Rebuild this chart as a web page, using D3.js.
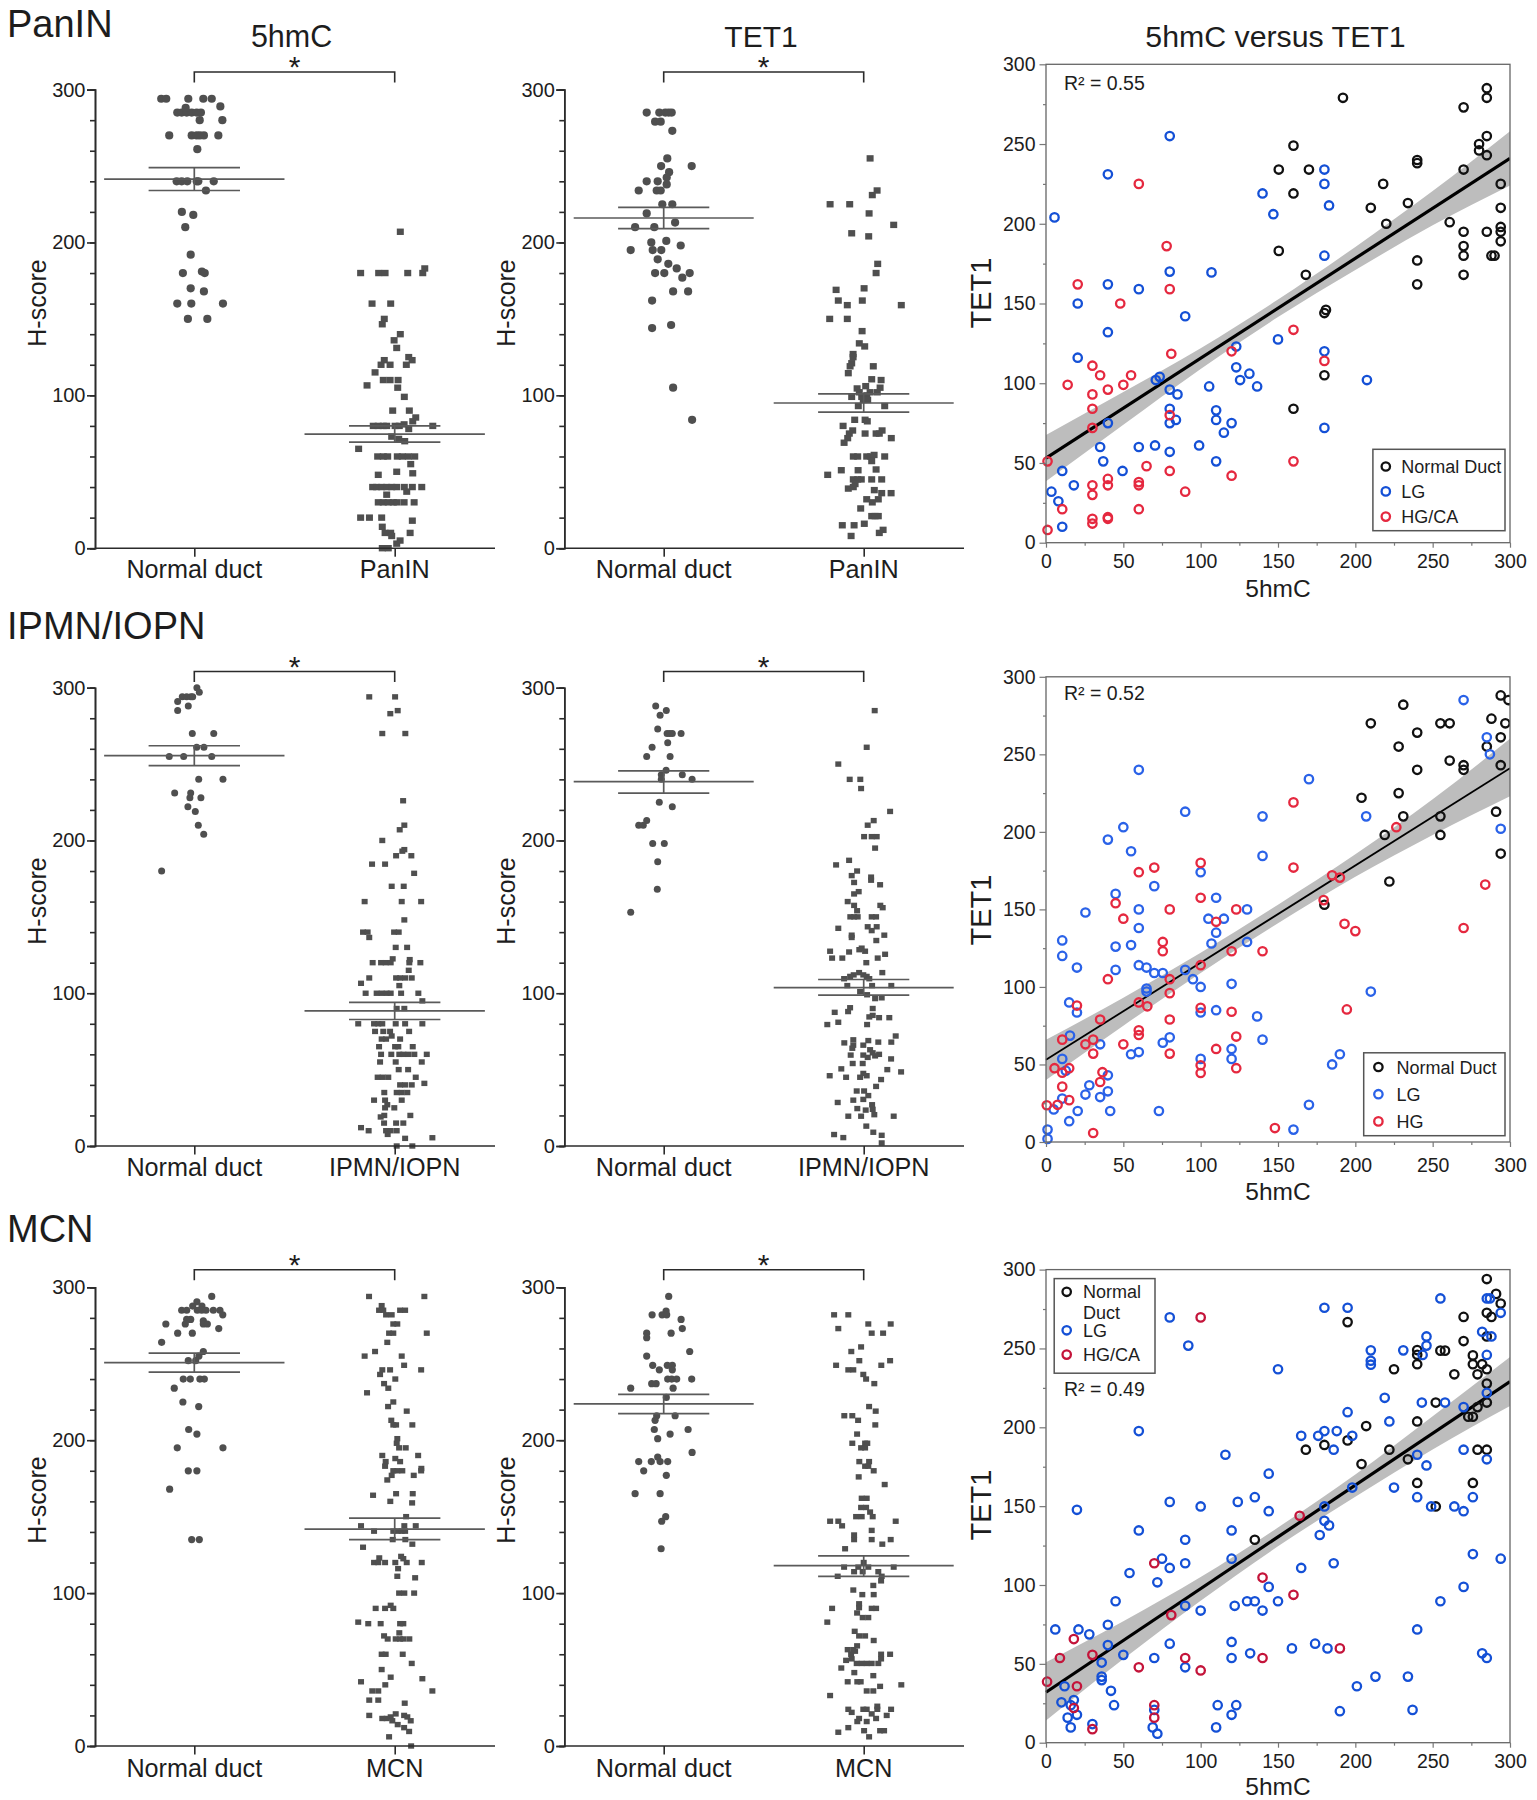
<!DOCTYPE html>
<html><head><meta charset="utf-8">
<script src="https://cdn.jsdelivr.net/npm/d3@7"></script>
<style>html,body{margin:0;background:#fff}svg{display:block;font-family:"Liberation Sans",Arial,sans-serif}</style>
</head><body><svg id="c" width="1537" height="1800"></svg>
<script>
// ---------- Tick labels / text ----------
const rowTitles=["PanIN","IPMN/IOPN","MCN"];
const columnTitles=["5hmC","TET1","5hmC versus TET1"];
const lesionLabels=["PanIN","IPMN/IOPN","MCN"];
const legendSets=[["Normal Duct","LG","HG/CA"],["Normal Duct","LG","HG"],["Normal Duct","LG","HG/CA"]];
const r2Labels=["R² = 0.55","R² = 0.52","R² = 0.49"];
const hTicks=[0,100,200,300];
const sTicks=[0,50,100,150,200,250,300];

// ---------- Dot plots: [jitter as % of the category gap, H-score] ----------
const pan5Normal=[[-16.5,294],[-14,294],[-3,294],[4.5,294],[8.7,294],[13,289],[-8.5,285],[-6.3,285],[-3.8,285],[-1.3,285],[1.2,285],[3.3,285],[-4.3,288],[2.7,280],[14,280],[-12.5,270],[-1.3,270],[1.2,270],[2.8,270],[4.8,270],[12,270],[1.5,261],[-8.8,240],[-6.3,240],[-3.5,240],[1.2,240],[2,240],[9.7,240],[5.8,234],[-6.2,220],[-0.5,218],[-4.5,210],[-1.8,192],[-5.7,180],[3.8,181],[5.2,180],[-1.8,170],[4.8,168],[-8.5,160],[-1.5,160],[14.3,160],[-3.2,150],[6.5,150]];
const pan5Lesion=[[2.8,207],[-17,180],[-8,180],[-4.8,180],[6.5,180],[14,180],[15,183],[-11.3,160],[-2,160],[-5.2,150],[-6.2,146.5],[2.8,140],[-0.3,136],[1,131],[7,125],[8.7,123],[-5.2,123],[-6.8,120],[-2.3,120],[5.8,120],[-9.8,115],[-5.7,110],[-2.3,110],[1.7,110],[-13.8,106.5],[1.5,105],[4.8,99],[-1,90],[7.3,90],[10.5,85.5],[9,83],[-10.7,80],[-8.2,80],[-5.7,80],[-4,80],[0.2,80],[2.3,80],[4.7,81],[19,80],[7,78],[-1.5,73],[2,71.5],[5,70],[-18,65],[-8.5,60],[-5.7,60],[-3.5,60],[1.3,60],[3.8,60],[6.8,60],[10,60],[8,55],[-8.2,48],[1,50],[9,49],[-11,40],[-9,40],[-6.5,40],[-4,40],[-1.5,40],[1,40],[4.8,40],[8.8,40],[13.5,40],[6,37],[-4,35],[-8.2,30],[-5.7,30],[-3.2,30],[-0.7,30],[1.2,30],[4.7,30],[9.7,30],[-17,20],[-12.6,20],[-6.5,20],[8.8,18],[-6.2,14],[-4.8,10],[-2,10],[7.7,10],[-1.5,8],[2.7,5],[1,3],[-6.2,0],[-3.2,0]];
const panTNormal=[[-8.5,285],[-2.2,285],[0.8,285],[2.5,285],[4,285],[-4.3,279],[-1.5,279],[4.3,273],[1.8,255],[-1.3,250],[14,250],[2.7,246],[1.5,242.5],[-8.5,240],[-3,240],[1.5,238],[-12.5,234],[-3.5,234],[-1.5,234],[-0.7,225],[4.3,225],[-8.5,219],[5.7,213],[-14.3,210],[-4.7,210],[-6.2,200],[1.3,201],[8.5,198],[-16.5,195],[-5.5,195],[-1.2,195],[-3,189],[2.3,186],[6.5,183],[-4.3,180],[0.3,180],[13,180],[9.3,177],[4.7,168],[12.2,168],[-5.8,162],[3.7,146],[-5.8,144],[4.7,105],[14.2,84]];
const panTLesion=[[3.2,255],[6.7,234],[4.3,231],[-16.8,225],[-7,225],[2.7,219],[15,211.5],[-6,206],[2.5,204],[7,186],[6.2,180],[-13.8,169],[0.2,170],[-12.7,162],[-0.7,162],[-8.2,159],[18.8,159],[-17,150],[-8.2,150],[-0.8,142],[-2.2,134],[0.5,132],[-5.3,127],[-5.3,125],[-6,121],[-6.8,119],[4.8,119],[-7.7,114.5],[4,110.5],[8.7,110],[-3.3,104.5],[1,106],[8.2,105],[-2.2,102],[3.2,102],[6.8,102],[-6,99],[-1,99],[1.5,100],[-0.2,97],[2,97],[-2.7,93],[10.5,93],[-4.5,84],[0.7,84],[1.8,83],[-10.3,80],[-5.5,77],[9.2,77],[0.7,75],[6.2,75],[7.8,75],[-7.2,75],[-8,72],[13.8,72],[-9.8,69],[-5.2,60],[-3,60],[1.5,60],[3.5,60],[10.5,60],[5.2,61],[4,57],[-18,48],[-11.2,51],[-2.8,51],[6.2,51.5],[-5.2,45],[-3,45],[-1.2,45],[4,45],[9,45],[-4.3,42],[-7.7,39],[-5.2,40],[5.3,38],[9,36],[13.7,36],[1.5,32],[7.3,32],[4.3,30],[-1.5,26],[4,21],[5.7,21],[7.3,21],[-10.7,15],[-4.8,15],[0.3,16],[9.7,12],[7.8,10],[-6.3,8]];
const ipm5Normal=[[1.3,300],[2.5,297],[-8.3,291],[-6,294],[-3.8,294],[-1.7,294],[-0.8,294],[-3,288],[-8.3,285],[-1,270],[9.7,270],[1.2,261],[4.8,261],[-12.5,255],[-5.3,255],[8.7,255],[2.2,240],[14.3,240],[-9.8,231],[-1.8,231],[-2.2,228],[3.3,228],[-3.2,222],[0.5,219],[2,210],[4.7,204],[-16.3,180]];
const ipm5Lesion=[[-12.7,294],[0.2,294],[1.5,285],[-2.2,283],[-6.2,270],[5.3,270],[4.2,226],[4.8,210],[2.5,207],[-6.2,200],[4.8,194],[3.8,193],[0.7,190],[8.3,190],[-11.3,184.5],[-4.8,184.5],[9.7,178.5],[-1.5,170],[4.5,170],[-15,160],[3.5,160],[13.2,160],[4.8,148],[-15.8,140],[-13.5,140],[-0.3,140],[2,140],[-12.7,136.5],[0.5,130],[6.2,130],[-1,122.5],[7.5,122],[-11,120],[-6.8,120],[-4.5,120],[-2,120],[7.3,120],[12.8,120],[7,115],[-12.7,110],[0.7,110],[2.7,110],[5.2,110],[8.5,110],[-16.8,106.5],[2.3,105],[-14.5,100],[-9,100],[-6.5,100],[-4,100],[-2,100],[3.2,100],[11.8,100],[13.8,95],[1,90],[4.8,90],[-18.2,80],[-10.3,80],[-8.2,80],[-6.2,80],[0.5,80],[5.2,80],[13.8,80],[-9.8,75],[-5.7,75],[7.2,75],[-2.3,75],[-1.5,72],[-6.5,70],[-4.3,70],[2.7,70],[-7.8,65],[0.2,65],[1.8,65],[9,65],[-6.8,60],[-1.7,60],[2.3,60],[4.3,60],[6.8,60],[9.8,60],[16,60],[-7.3,55],[0.5,55],[13.5,55],[2,50],[6.7,50],[-8.5,45],[-6,45],[-3.2,45],[10.5,45],[14.8,41],[2.7,40],[5.2,40],[8.5,40],[-5.2,35],[1,35],[3.5,35],[6.3,35],[-10.3,30],[-4.8,30],[3.5,30],[-3.7,27],[-4.8,25],[-0.2,25],[-7,19],[-5.2,20],[7.8,20],[-5.3,15],[0.7,15],[4.3,15],[-16.8,12],[-13,10],[-4.3,10],[-2,10],[1,10],[-3.5,7.6],[5.2,5],[18.8,5.4],[1,0],[8.8,0]];
const ipmTNormal=[[-4,288],[1.3,285],[-1.8,282],[-3,273],[1.7,270],[3,270],[4.3,270],[8.7,270],[2,264],[-5.8,261],[-8.5,255],[3.2,255],[1.2,246],[-1.2,243],[9.3,243],[-1.2,240],[14.2,240],[-2.2,225],[4.3,222],[-8.5,213],[-12.5,210],[-10.2,210],[-5.5,198],[0.3,198],[-3,186],[-3.2,168],[-16.5,153]];
const ipmTLesion=[[5.5,285],[1.5,261],[-12.7,250],[-7,240],[-1.7,240],[-1.3,234],[13.2,219],[5,213],[2,210],[0.2,202.5],[4,202.5],[6.5,202.5],[5.7,195],[-13.8,184],[-7.3,187],[-3.3,180],[-6,177],[3.7,176],[3.7,174],[-4.8,172.5],[8.2,171],[-2.5,166.5],[-4.8,165],[-8,160],[-4.8,157.5],[8.3,157.5],[9.5,156],[-3.3,154],[-6.7,150],[-4.8,150],[-3,150],[4,150],[6.2,150],[-12.7,142.5],[2,143.5],[6.5,143.5],[4,141],[-6,138],[-6,136.5],[10.3,138],[6.3,134.5],[-1,129.5],[-2.2,128.5],[0.7,127.5],[-16.8,127.5],[-7.3,127],[10.7,125.5],[-15.8,123],[-10.7,123],[7,123],[1.3,120],[9.3,113.5],[-2.3,113.5],[-5,112],[-0.2,112],[1.5,111],[-9.8,109.5],[-6.8,111],[2.8,109.5],[-8.2,105],[4.2,105],[13.8,105],[-1.8,101],[1.7,99],[5.7,96.5],[9,97],[4.5,90],[-6.8,90.5],[-7.8,88],[-14.5,87.5],[2.8,84.5],[4.5,85.5],[7.7,84],[12.8,84],[-12.7,81],[-18.2,79.5],[1.7,79.5],[16,72],[13.8,68],[-9.7,67.5],[-5.2,69.5],[-5.2,66],[-5.7,64],[-0.2,66],[2.3,69],[7.3,68],[3.2,63],[-0.2,59.5],[-6.5,59.5],[4.5,61],[7.7,60],[2,58],[5.7,59],[13.7,57],[-5.5,54],[-0.5,54],[-11.2,50.5],[11.8,50],[18.7,48.5],[-17,46],[-8.8,45],[-1.8,45],[-0.2,47.5],[1.5,46],[8.7,43.5],[6.2,39],[-3.5,36],[0.2,36],[2.3,33],[-5.2,30],[-0.2,30.5],[-13,28.5],[4.2,27],[-3.2,24.5],[1,23.5],[4.5,24],[-7.7,19.5],[-1.3,19.5],[5.3,20.5],[15,19.5],[1.3,13],[4.8,9],[9,7],[-14.8,7.5],[-10.2,5.5],[9,2]];
const mcn5Normal=[[8.7,294],[1.3,290.5],[-0.8,287.7],[3.8,287.7],[-6.3,285],[-3.8,285],[1.5,285],[3.7,285],[5.8,285],[9.5,285],[12.8,285],[14.2,282],[-1.8,279],[-3.8,279],[4.5,278],[-14.2,276],[-4.5,276],[4.5,276],[6.5,276],[12.2,273],[-8.3,270],[-1,270],[-16.3,264],[4.5,258],[2.3,255],[0.7,252],[-3,252],[-5.5,240],[-2,240],[2.8,240],[5,240],[-10,234],[-5.7,225],[2.2,222],[-2.8,207],[1.3,204],[-8.5,195],[14.3,195],[-3,180],[1.3,180],[-12.3,168],[-1.3,135],[2.5,135]];
const mcn5Lesion=[[-12.8,294],[14.8,294],[-6.5,288],[-7.8,285],[-5.7,285],[2.7,285],[5.2,285],[-4.3,282],[-1.5,282],[-0.7,276],[1.3,276],[-2.8,270],[-0.7,270],[16,270],[-3.7,264],[-9.8,258],[-15,255],[3.5,255],[4.7,249],[-6.2,246],[-2.3,246],[13.2,246],[-7.3,243],[0.3,240],[-5.3,237],[-3.2,234],[-13.8,231],[-0.7,225],[-3.3,222],[6,219],[-1.7,213],[0.7,210],[8.8,210],[-0.7,210],[1.3,201],[1,198],[2.2,195],[5.5,195],[-6.2,190],[11.7,190],[0.3,188],[-4.5,186],[2.7,186],[-4.8,183],[13.3,181.5],[-0.7,180],[1.3,180],[3.8,180],[13.2,180],[-1.5,177],[9.5,177],[-3.7,174],[-10.8,164],[0.7,165],[9,165],[-2.2,160],[8.7,159],[5.7,150],[-16.8,144],[4.8,144],[10.5,144],[-10.3,140.5],[-0.7,140.5],[1.5,140.5],[3.5,140.5],[5.2,140.5],[-1,135],[5.3,135],[8.8,132],[-15.8,130],[-7.7,123],[3.2,124],[4.3,122.5],[-10.3,120],[-8.2,120],[-4.8,120],[0.3,120],[6,120],[13.5,120],[1.7,116],[1.3,111],[10.2,110],[2.2,100],[4.8,100],[9.7,100],[-2,92],[-9.5,90],[-4.8,90],[-0.7,90],[-18.2,81],[-13.2,80],[-7,80],[2.7,80],[4.3,80],[2.3,74],[-5.3,72],[-3.5,70],[0.5,70],[2.7,70],[4.3,70],[7.3,70],[-6.5,60],[-4.5,60],[4,60],[8.5,54],[-6.5,50],[-2,45],[13.8,44],[-16.8,42],[-4.7,40],[-11.2,36],[-8.2,36],[18.8,36],[-12.7,30],[-8.2,30],[5,28],[-12.7,20],[0.5,21],[-2,19],[4.7,20],[6.3,19],[-6.2,18],[-4,18],[8,16.5],[-1.2,16.5],[1.5,14],[4.7,12],[7.2,9.5],[-2.8,6],[8.2,0]];
const mcnTNormal=[[2.5,294],[1.2,284.5],[-5.8,282],[-0.8,282],[1.5,282],[8.7,279],[9.3,273],[-8.5,270],[3.7,270],[-8.5,267],[13,258],[-8.5,255],[-5.5,249],[1.8,249],[4.3,249],[-2.2,246],[4.3,246],[2,240],[4,240],[6.5,240],[14,240],[-6,237],[-3.8,237],[-16.5,234],[4.7,234],[1.3,228],[-3.5,216],[5.7,216],[-4.3,213],[-4.7,207],[12.2,207],[3.2,204],[-3,201],[14.2,192],[-3,189],[-12.5,186],[-6.2,186],[-1.8,186],[2,186],[-10,180],[1.3,177],[-14.3,165],[-1.8,165],[1,150],[-1,147],[-1.3,129]];
const mcnTLesion=[[-14.8,282],[-7.7,282],[2.3,276],[13.5,276],[-12.7,273],[4,270],[9.7,270],[-1.3,261],[-6.2,258],[-2.2,252],[13.2,252],[-13.8,249],[8.8,249],[-7.7,246],[-5.2,246],[-0.2,243],[1.2,240],[5.3,237],[2.7,222],[6,219],[-9.7,216],[-5.7,216],[-2.8,213],[5.8,210],[-3.3,204],[-5.7,198],[0.7,198],[1.8,198],[-1.3,195],[0.7,195],[-2.2,186],[2.7,186],[0.7,183],[2.3,183],[5,180],[-2.5,176],[10.5,171],[-1,162],[1.5,162],[-1.3,156],[1.2,156],[3.2,153],[-3.8,150],[-1,150],[4.5,150],[-16.8,147],[-12.7,147],[16,147],[-10.8,144],[4,141],[-4.8,138],[-4.8,135],[4,135],[13.5,135],[9.3,132],[-9.3,129],[0,120],[-9.8,117],[-2.7,117],[2.3,117],[15,117],[-4.8,114],[-0.5,114],[7.3,114],[-13,111],[9,111],[8.7,108],[4.8,105],[-5.2,102],[-0.7,99],[5,99],[-2.3,93],[-2.3,90.5],[-15.8,90],[4,90],[6.2,90],[-3.3,87],[-0.5,84],[2.3,84],[-18.2,81],[-4.5,75],[-2.3,72],[0.7,72],[5,69],[-3.3,65.5],[-8,63],[-5.2,63],[-6.3,60],[8.7,60],[13.2,60],[-4.3,62],[-6,57],[-8.8,56],[8.7,57],[-3.5,54],[-1,54],[1.5,54],[4,54],[7.3,54],[-11.2,51],[-4.7,48],[4.8,46],[-8,42],[-3.2,42],[-1.5,42],[18.8,40],[8.2,39],[1.5,36],[4.8,36],[-16.8,33],[-7.7,24],[-0.2,24],[1.5,24],[6.8,24],[13.7,24],[6.8,26],[-6,22],[4,21],[11.5,20],[6.2,18],[-2.3,18],[-3.2,16],[1.5,16],[-12.7,9],[-7.7,12],[0.2,10],[8.2,10],[10.2,10],[2.7,6]];

// summary lines: [mean, lower SEM, upper SEM]
const pan5NormalStat=[241.5,234,249], pan5LesionStat=[74.6,69.4,80];
const panTNormalStat=[216,209,223], panTLesionStat=[95,89,101];
const ipm5NormalStat=[255.5,249,262], ipm5LesionStat=[88.4,82.8,94];
const ipmTNormalStat=[238.5,231,245.5], ipmTLesionStat=[103.7,98.8,109];
const mcn5NormalStat=[250.7,244.5,257], mcn5LesionStat=[141.9,135,149];
const mcnTNormalStat=[223.7,217.4,230], mcnTLesionStat=[118,111,124.3];

// ---------- Scatter plots: [5hmC, TET1] ----------
const panBlack=[[192,279],[160,249],[150.5,234],[170,234],[160,219],[218,225],[210,210],[220,200],[234,213],[240,240],[240,238],[261,201],[270,273],[270,234],[270,195],[270,186],[270,180],[270,168],[240,177],[240,162],[150.5,183],[168,168],[181,146],[180,144],[180,105],[160,84],[285,285],[285,279],[285,255],[285,243],[280,250],[280,246],[285,195],[294,225],[294,210],[294,198],[294,195],[294,189],[288,180],[290,180]];
const panBlue=[[80,255],[40,231],[5.5,204],[140,219],[147,206],[180,234],[180,225],[183,211.5],[180,180],[80,170],[107,169.5],[40,162],[60,159],[20.5,150],[90,142],[40,132],[150,127.5],[20.5,116],[180,120],[123,123],[123,110],[131.5,106],[125.5,102],[136.5,98],[105.5,98],[73.5,104],[71,102],[207.5,102],[80,96],[85,93],[80,84],[110,83],[110,77],[84,77],[80,75],[120,75],[115,69],[40,75],[180,72],[35,60],[60,60],[70.5,61],[99,61],[80,57],[37,51],[110,51],[10.5,45],[49.5,45],[18,36],[3.5,32],[8,26],[10.5,10]];
const panRed=[[60,225],[78,186],[20.5,162],[80,159],[48,150],[160,133.5],[81,118.5],[120,120],[180,114],[30,111],[35,105],[55,105],[14,99],[50,99],[30,93],[40,96],[30,84],[80,80],[30,72],[1,51],[160,51],[65,48],[80,45],[120,42],[40,40],[40,36],[30,36],[30,30],[60,38],[60,36],[90,32],[10.5,21],[60,21],[30,15],[30,12],[40,16],[40,15],[1,8]];
const ipmBlack=[[294,288],[299,285],[231,282],[210,270],[255,270],[261,270],[297,270],[288,273],[240,264],[294,261],[228,255],[285,255],[261,246],[270,243],[270,240],[240,240],[294,243],[204,222],[228,225],[231,210],[255,210],[291,213],[219,198],[255,198],[294,186],[222,168],[180,153]];
const ipmBlue=[[270,285],[285,261],[287,250],[294,202],[60,240],[170,234],[90,213],[140,210],[207,210],[50,203],[40,195],[55,187.5],[140,184.5],[100,174],[70,165],[45,160],[110,157.5],[60,150],[130,150],[25.5,148],[105,144],[115,144],[60,138],[110,135],[10.5,130],[55,127],[45,126],[107,128],[130,129],[10.5,120],[20,112.5],[60,114],[65,112.5],[45,111],[70,109],[75.5,109],[90,111],[95,105],[100,100],[120,102],[65,99],[65,97],[210,97],[15,90],[20,83.5],[110,85],[100,83.5],[136.5,81],[80,67.5],[15.5,68.6],[140,66],[75.5,64],[35,63],[120,60],[55,56.6],[60,58],[190,56.6],[185,50],[10.5,53.6],[100,53.6],[120,53.6],[12.8,46],[40,43],[28,36.6],[25.5,30.6],[35,29],[40,32.7],[10.5,28],[5,21],[20.5,20],[41.5,20],[73,20],[15,13.4],[170,24],[160,8],[1,8],[1,2]];
const ipmRed=[[160,219],[226.5,203],[100,180],[70,177],[60,174],[160,177],[185,172],[190,170.5],[284,166],[100,157.5],[45,154],[179.5,156],[50,144],[80,150],[123,150],[110,142],[193,140.7],[200,136],[270,138],[75.5,129],[75.5,123],[120,123],[140,123],[100,114],[40,105],[80,105],[80,96],[60,90],[65.5,87.5],[20,88],[100,86.5],[194.5,85.5],[120,84],[80,79],[35,79],[60,72],[60,69],[123,68],[10.5,66],[30.5,66],[25.5,63],[50,63],[110,60],[30.5,57],[80,57],[100,49.5],[100,44.5],[123,47.6],[5.5,47.6],[15,47.6],[10.5,44.7],[36.5,45],[35,38.7],[10.5,35.7],[15,27],[7.5,24],[0.5,23.7],[30.5,5.8],[148,9]];
const mcnBlack=[[285,294],[291,284.6],[294,278.5],[270,270],[285,272.6],[288,270],[195,266.7],[285,257.6],[270,254.7],[240,249],[240,246],[240,240],[255,248.6],[258,248.6],[276,245.6],[276,240],[282,240],[225,236.8],[285,236.8],[264,233.6],[279,233.6],[285,227.7],[252,215.7],[285,215.7],[279,212.8],[273,206.7],[276,206.7],[240,203.7],[207,200.8],[195,191.7],[180,188.8],[222,185.8],[168,185.8],[279,185.8],[285,185.8],[234,179.7],[204,176.7],[240,164.7],[276,164.7],[252,149.8],[135,128.7]];
const mcnBlue=[[255,281.7],[285,281.7],[287,281.7],[180,275.8],[195,275.8],[294,272.6],[80,269.7],[282,260.6],[288,257.6],[246,257.6],[246,251.8],[92,251.8],[210,248.8],[231,248.8],[243.5,245.9],[285,245.9],[210,242.2],[210,239.7],[150,236.8],[219,218.7],[285,221.8],[243,215.7],[258,215.7],[195,209.6],[270,212.8],[222,203.7],[60,197.6],[180,197.6],[188,197.6],[165,194.6],[176,194.6],[198,194.6],[186,185.8],[270,185.8],[116,182.6],[240,182.6],[285,179.7],[246,175.8],[144,170.6],[198,161.8],[225,161.8],[135,155.7],[240,155.7],[276,155.7],[80,152.7],[124,152.7],[20,147.7],[100,149.8],[180,149.8],[249,149.8],[264,149.8],[144,146.8],[270,146.8],[180,140.7],[183,137.8],[60,134.6],[120,134.6],[177,131.7],[90,128.7],[276,119.6],[75,116.7],[120,116.7],[294,116.7],[90,113.8],[186,113.8],[80,110.8],[165,110.8],[54,107.6],[72,101.7],[144,98.8],[270,98.8],[45,89.7],[130,89.7],[135,89.7],[150,89.7],[255,89.7],[90,86.8],[122,86.8],[100,83.8],[140,83.8],[40,74.8],[6,71.8],[21,71.8],[240,71.8],[28,68.7],[40,61.9],[80,62.8],[120,63.9],[174,62.8],[159,59.8],[182,59.8],[132,56.7],[282,56.7],[50,55.7],[70,53.7],[120,53.7],[285,53.7],[36,50.8],[90,47.8],[36,41.9],[36,39.7],[213,41.9],[234,41.9],[12,35.8],[201,35.8],[42,32.9],[18,27],[10,25.6],[16,23.8],[44,23.8],[111,23.8],[123,23.8],[70,20.8],[237,20.8],[190,20],[20,17.7],[120,17.7],[14,15.9],[30,11.8],[16,9.7],[110,9.7],[69,9.7],[72,5.7]];
const mcnRed=[[100,269.7],[164,143.9],[140,104.7],[70,113.8],[160,93.8],[81,80.9],[18,65.7],[9,53.7],[30,55.7],[90,53.7],[140,53.7],[190,59.8],[60,47.8],[100,45.8],[20,35.8],[0.7,38.7],[70,23.8],[70,15.9],[18,22],[30,8.6]];

// regression fits and confidence bands
const fitX=[0,300];
const panFit=[53,241], ipmFit=[53,241], mcnFit=[32,229];
const bandX=[0,50,100,150,200,250,300];
const panLow=[38.5,74,109,141.5,171,199,224], panHigh=[67.5,94.5,122,152.5,185.5,220.5,258];
const ipmLow=[40,75,109,141,171,198,223], ipmHigh=[66,93,122,153,185.5,221,260];
const mcnLow=[14,53,90,124.5,156,186,213.5], mcnHigh=[51,77,105,136.5,170,207,244.5];

// ---------- Layout ----------
const svg=d3.select("#c");
const INK="#2b2b2b", DOT="#4f4f4f", TXT="#1d1d1d";
const rows=[
 {y0:548.2,y1:89.6,br:72,title:36.7,cat:578,hy:303,
  s:{top:64.3,bot:542.7,tick:568,lab:597,ty:293,r2:90,line:3.2,red:"#e5283f",blue:"#1450d6"},
  dr:4.1,sw:7,sh:6.4},
 {y0:1146,y1:687.7,br:671.5,title:639.4,cat:1176,hy:901,
  s:{top:676.8,bot:1142,tick:1172,lab:1199.5,ty:910,r2:700,line:1.8,red:"#e5283f",blue:"#2a62e8"},
  dr:3.5,sw:6,sh:5.4},
 {y0:1746,y1:1287.3,br:1269.7,title:1242,cat:1776.5,hy:1500,
  s:{top:1269.6,bot:1742.7,tick:1767.7,lab:1795,ty:1505,r2:1396,line:3.2,red:"#c4143a",blue:"#1450d6"},
  dr:3.6,sw:6,sh:5.4}
];
const cols=[{ax:95,c0:194.3,c1:394.7,end:495,hx:45.7,tx:291.6},{ax:564.3,c0:663.7,c1:863.7,end:964,hx:515,tx:761}];
const S={l:1046,r:1510,ty:990.5,cx:1278,titleX:1275.5};

function label(x,y,t,size,anchor){return svg.append("text").attr("x",x).attr("y",y).attr("font-size",size).attr("text-anchor",anchor||"middle").attr("fill",TXT).text(t);}

function dotPanel(r,c,normal,lesion,nStat,lStat,lesionName){
  const R=rows[r],C=cols[c];
  const y=d3.scaleLinear([0,300],[R.y0,R.y1]);
  const x=d3.scaleLinear([0,100],[C.c0,C.c1]);
  const g=svg.append("g");
  g.selectAll("circle").data(normal).join("circle")
    .attr("cx",d=>x(d[0])).attr("cy",d=>y(d[1])).attr("r",R.dr).attr("fill",DOT);
  g.selectAll("rect").data(lesion).join("rect")
    .attr("x",d=>x(100+d[0])-R.sw/2).attr("y",d=>y(d[1])-R.sh/2).attr("width",R.sw).attr("height",R.sh).attr("fill",DOT);
  [[0,nStat],[100,lStat]].forEach(([p,s])=>{
    const e=g.append("g").attr("stroke","#5a5a5a").attr("stroke-width",1.7);
    e.append("line").attr("x1",x(p-45)).attr("x2",x(p+45)).attr("y1",y(s[0])).attr("y2",y(s[0]));
    e.append("line").attr("x1",x(p-22.8)).attr("x2",x(p+22.8)).attr("y1",y(s[1])).attr("y2",y(s[1]));
    e.append("line").attr("x1",x(p-22.8)).attr("x2",x(p+22.8)).attr("y1",y(s[2])).attr("y2",y(s[2]));
    e.append("line").attr("x1",x(p)).attr("x2",x(p)).attr("y1",y(s[1])).attr("y2",y(s[2]));
  });
  // axes
  const minor=svg.append("g").attr("transform",`translate(${C.ax},0)`)
    .call(d3.axisLeft(y).tickValues(d3.range(0,301,20)).tickSize(5).tickFormat(""));
  const major=svg.append("g").attr("transform",`translate(${C.ax},0)`)
    .call(d3.axisLeft(y).tickValues(hTicks).tickSize(8).tickPadding(1.5));
  major.selectAll("text").attr("font-size",20).attr("font-family","inherit").attr("fill",TXT);
  [minor,major].forEach(a=>{a.selectAll("line,path").attr("stroke",INK).attr("stroke-width",1.6);});
  const xa=svg.append("g").attr("transform",`translate(0,${R.y0})`)
    .call(d3.axisBottom(d3.scalePoint(["Normal duct",lesionName],[C.c0,C.c1])).tickSize(8.5));
  xa.select("path").remove();
  xa.selectAll("line").attr("stroke",INK).attr("stroke-width",1.6);
  xa.selectAll("text").remove();
  svg.append("line").attr("x1",C.ax).attr("x2",C.end).attr("y1",R.y0).attr("y2",R.y0).attr("stroke",INK).attr("stroke-width",1.6);
  label(C.c0,R.cat,"Normal duct",25.2);
  label(C.c1,R.cat,lesionName,25.2);
  label(0,0,"H-score",25).attr("transform",`translate(${C.hx},${R.hy}) rotate(-90)`);
  // significance bracket
  svg.append("path").attr("d",d3.line()([[C.c0,R.br+10.5],[C.c0,R.br],[C.c1,R.br],[C.c1,R.br+10.5]]))
    .attr("fill","none").attr("stroke",INK).attr("stroke-width",1.6);
  label((C.c0+C.c1)/2,R.br+5,"*",30);
}

function scatterPanel(r,black,blue,red,fit,low,high,lg,r2){
  const R=rows[r],P=R.s;
  const x=d3.scaleLinear([0,300],[S.l,S.r]);
  const y=d3.scaleLinear([0,300],[P.bot,P.top]);
  const clipId="clip"+r;
  svg.append("clipPath").attr("id",clipId).append("rect")
    .attr("x",S.l-8).attr("y",P.top-8).attr("width",S.r-S.l+8).attr("height",P.bot-P.top+16);
  const g=svg.append("g").attr("clip-path",`url(#${clipId})`);
  g.append("path").attr("fill","#bdbdbd")
    .attr("d",d3.area().x((d,i)=>x(bandX[i])).y0((d,i)=>y(low[i])).y1(d=>y(d)).curve(d3.curveMonotoneX)(high));
  g.append("line").attr("x1",x(fitX[0])).attr("x2",x(fitX[1])).attr("y1",y(fit[0])).attr("y2",y(fit[1]))
    .attr("stroke","#000").attr("stroke-width",P.line);
  [[black,"#111"],[blue,P.blue],[red,P.red]].forEach(([pts,col])=>{
    g.append("g").selectAll("circle").data(pts).join("circle")
      .attr("cx",d=>x(d[0])).attr("cy",d=>y(d[1])).attr("r",4.2)
      .attr("fill","none").attr("stroke",col).attr("stroke-width",2.3);
  });
  svg.append("rect").attr("x",S.l).attr("y",P.top).attr("width",S.r-S.l).attr("height",P.bot-P.top)
    .attr("fill","none").attr("stroke","#666").attr("stroke-width",1.3);
  const mnL=svg.append("g").attr("transform",`translate(${S.l},0)`).call(d3.axisLeft(y).tickValues(d3.range(25,300,50)).tickSize(3).tickFormat(""));
  const mnB=svg.append("g").attr("transform",`translate(0,${P.bot})`).call(d3.axisBottom(x).tickValues(d3.range(25,300,50)).tickSize(3).tickFormat(""));
  const mL=svg.append("g").attr("transform",`translate(${S.l},0)`).call(d3.axisLeft(y).tickValues(sTicks).tickSize(6.5).tickPadding(4));
  const mB=svg.append("g").attr("transform",`translate(0,${P.bot})`).call(d3.axisBottom(x).tickValues(sTicks).tickSize(5));
  [mnL,mnB,mL,mB].forEach(a=>{a.select("path").remove();a.selectAll("line").attr("stroke","#777").attr("stroke-width",1.2);});
  mL.selectAll("text").attr("font-size",19.5).attr("font-family","inherit").attr("fill",TXT);
  mB.selectAll("text").attr("font-size",19.5).attr("font-family","inherit").attr("fill",TXT)
    .attr("y",P.tick-P.bot).attr("dy",0);
  label(S.cx,P.lab,"5hmC",24.5);
  label(0,0,"TET1",29).attr("transform",`translate(${S.ty},${P.ty}) rotate(-90)`);
  label(1064,P.r2,r2,19.5,"start");
  drawLegend(r,lg,P);
}

function drawLegend(r,lg,P){
  const cols3=["#111",P.blue,P.red];
  let box,mx,tx,ys;
  if(r===0){box=[1372.9,449.3,132.1,81.4];mx=1385.8;tx=1401.2;ys=[466.5,491.4,516.6];}
  if(r===1){box=[1363.7,1052.8,141.3,82.9];mx=1378.4;tx=1396.4;ys=[1067,1094.2,1121.4];}
  if(r===2){box=[1054.2,1278.6,100.8,94.6];mx=1066.7;tx=1082.9;ys=[1291.8,1330.3,1354.6];}
  svg.append("rect").attr("x",box[0]).attr("y",box[1]).attr("width",box[2]).attr("height",box[3])
    .attr("fill","#fff").attr("stroke","#555").attr("stroke-width",1.5);
  lg.forEach((t,i)=>{
    svg.append("circle").attr("cx",mx).attr("cy",ys[i]).attr("r",4.2).attr("fill","none").attr("stroke",cols3[i]).attr("stroke-width",2.3);
    if(r===2&&i===0){
      const p=t.split(" ");
      label(tx,ys[i]+6,p[0],18,"start");
      label(tx,ys[i]+27,p[1],18,"start");
    } else label(tx,ys[i]+6.5,t,18,"start");
  });
}

// ---------- Draw ----------
rowTitles.forEach((t,i)=>label(7,rows[i].title,t,38,"start"));
label(cols[0].tx,47,columnTitles[0],30.5);
label(cols[1].tx,47,columnTitles[1],30);
label(S.titleX,47,columnTitles[2],30.3);

dotPanel(0,0,pan5Normal,pan5Lesion,pan5NormalStat,pan5LesionStat,lesionLabels[0]);
dotPanel(0,1,panTNormal,panTLesion,panTNormalStat,panTLesionStat,lesionLabels[0]);
dotPanel(1,0,ipm5Normal,ipm5Lesion,ipm5NormalStat,ipm5LesionStat,lesionLabels[1]);
dotPanel(1,1,ipmTNormal,ipmTLesion,ipmTNormalStat,ipmTLesionStat,lesionLabels[1]);
dotPanel(2,0,mcn5Normal,mcn5Lesion,mcn5NormalStat,mcn5LesionStat,lesionLabels[2]);
dotPanel(2,1,mcnTNormal,mcnTLesion,mcnTNormalStat,mcnTLesionStat,lesionLabels[2]);
scatterPanel(0,panBlack,panBlue,panRed,panFit,panLow,panHigh,legendSets[0],r2Labels[0]);
scatterPanel(1,ipmBlack,ipmBlue,ipmRed,ipmFit,ipmLow,ipmHigh,legendSets[1],r2Labels[1]);
scatterPanel(2,mcnBlack,mcnBlue,mcnRed,mcnFit,mcnLow,mcnHigh,legendSets[2],r2Labels[2]);
</script></body></html>
